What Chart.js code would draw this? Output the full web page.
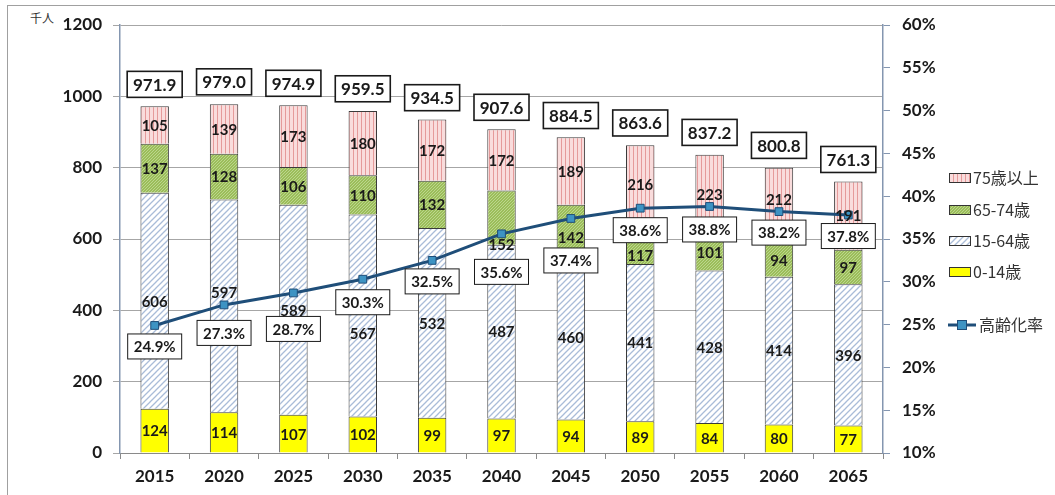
<!DOCTYPE html>
<html>
<head>
<meta charset="utf-8">
<script src="https://cdn.jsdelivr.net/npm/chart.js@4"></script>
<style>
html,body{margin:0;padding:0;background:#fff;overflow:hidden;}
#wrap{position:relative;width:1055px;height:495px;}
#frame{position:absolute;left:7px;top:5px;width:1100px;height:600px;border:1px solid #a0a0a0;box-sizing:border-box;}
#unit{position:absolute;left:30px;top:9px;font:12px "Noto Sans CJK JP";color:#333;}
canvas{position:absolute;left:0;top:0;}
</style>
</head>
<body>
<div id="wrap">
<div id="frame"></div>
<div id="unit">千人</div>
<canvas id="c" width="1055" height="495"></canvas>
</div>
<script>
// ---- data ----
const years = ['2015','2020','2025','2030','2035','2040','2045','2050','2055','2060','2065'];
const age0_14 = [124,114,107,102,99,97,94,89,84,80,77];
const age15_64 = [606,597,589,567,532,487,460,441,428,414,396];
const age65_74 = [137,128,106,110,132,152,142,117,101,94,97];
const age75plus = [105,139,173,180,172,172,189,216,223,212,191];
const totals = [971.9,979.0,974.9,959.5,934.5,907.6,884.5,863.6,837.2,800.8,761.3];
const agingRate = [24.9,27.3,28.7,30.3,32.5,35.6,37.4,38.6,38.8,38.2,37.8];
const seriesNames = ['0-14歳','15-64歳','65-74歳','75歳以上','高齢化率'];

// ---- label placement tweaks (pixels, as hand-placed in the original) ----
const segLabelShift = {
  1:[0,-14,0,18,0,0,0,0,0,0,0],
  2:[0,0,0,0,0,27,7,12,0,0,0],
  3:[0,0,0,0,0,0,0,0,0,-6,0]
};
const rateLabelShift = [21,28,36,23,21,38,42,22,23,21,21];

// ---- patterns ----
function makePattern(w,h,draw){
  const c=document.createElement('canvas');c.width=w;c.height=h;
  const g=c.getContext('2d');draw(g);
  return g.createPattern(c,'repeat');
}
const hatchBlue = makePattern(6,6,g=>{
  g.fillStyle='#ffffff';g.fillRect(0,0,6,6);
  g.strokeStyle='#a9bcd8';g.lineWidth=1.3;
  g.beginPath();g.moveTo(-1,7);g.lineTo(7,-1);g.moveTo(-4,4);g.lineTo(4,-4);g.moveTo(2,10);g.lineTo(10,2);g.stroke();
});
const pinkLines = makePattern(4,4,g=>{
  g.fillStyle='#f9dcdc';g.fillRect(0,0,4,4);
  g.fillStyle='#e59a9a';g.fillRect(1,0,1,4);
});
const greenDots = makePattern(3,3,g=>{
  g.fillStyle='#9bbd5a';g.fillRect(0,0,3,3);
  g.fillStyle='#bcd68c';g.fillRect(0,0,1,1);g.fillRect(2,1,1,1);g.fillRect(1,2,1,1);
});
const yellow='#ffff00';
const fills=[yellow,hatchBlue,greenDots,pinkLines];

const NUM='Lato, "Noto Sans CJK JP", sans-serif';
const JP='"Noto Sans CJK JP", sans-serif';

function box(g,cx,cy,w,h,text,font,lw){
  g.save();
  g.fillStyle='#fff';g.fillRect(cx-w/2,cy-h/2,w,h);
  g.strokeStyle='#1a1a1a';g.lineWidth=lw;g.strokeRect(cx-w/2,cy-h/2,w,h);
  g.fillStyle='#1a1a1a';g.font=font;g.textAlign='center';g.textBaseline='middle';
  g.fillText(text,cx,cy+1);
  g.restore();
}

const labelsPlugin={
  id:'labels',
  afterDatasetsDraw(chart){
    const g=chart.ctx, xs=chart.scales.x, ys=chart.scales.y, y1=chart.scales.y1;
    g.save();
    g.font='bold 15px '+NUM;g.fillStyle='#1a1a1a';g.textAlign='center';g.textBaseline='middle';
    chart.data.datasets.forEach((ds,i)=>{
      if(ds.type!=='bar')return;
      const k=i-1, sh=segLabelShift[k];
      chart.getDatasetMeta(i).data.forEach((bar,j)=>{
        g.fillText(String(ds.data[j]),bar.x,(bar.y+bar.base)/2+1+(sh?sh[j]:0));
      });
    });
    g.restore();
    totals.forEach((t,j)=>{
      const x=xs.getPixelForValue(j), y=ys.getPixelForValue(t)-22;
      box(g,x,y,55,26,t.toFixed(1),'bold 17px '+NUM,1.6);
    });
    agingRate.forEach((r,j)=>{
      const x=xs.getPixelForValue(j), y=y1.getPixelForValue(r)+rateLabelShift[j];
      box(g,x,y,54,25,r.toFixed(1)+'%','bold 15px '+NUM,1);
    });
  },
  afterDraw(chart){
    const g=chart.ctx;
    g.save();
    g.font='16px '+JP;g.fillStyle='#333';g.textBaseline='middle';g.textAlign='left';
    const items=[[3,178],[2,210],[1,241],[0,272]];
    items.forEach(([k,y])=>{
      g.fillStyle=fills[k];g.fillRect(949,y-4,21,9);
      g.strokeStyle='#333';g.lineWidth=1;g.strokeRect(949.5,y-4.5,21,9);
      g.fillStyle='#333';g.fillText(seriesNames[k],973,y);
    });
    const ly=325;
    g.strokeStyle='#1f4e79';g.lineWidth=3;g.beginPath();g.moveTo(948,ly);g.lineTo(976,ly);g.stroke();
    g.fillStyle='#3d93c3';g.fillRect(957,ly-5,10,10);g.strokeStyle='#1f4e79';g.lineWidth=1;g.strokeRect(957.5,ly-4.5,9,9);
    g.fillStyle='#333';g.fillText(seriesNames[4],979,ly);
    g.restore();
  }
};

const tickFont={family:NUM,size:17,weight:'bold'};
new Chart(document.getElementById('c'),{
  data:{
    labels:years,
    datasets:[
      {type:'line',label:seriesNames[4],data:agingRate,yAxisID:'y1',order:0,
       borderColor:'#1f4e79',borderWidth:3,pointStyle:'rect',pointRadius:5.5,
       pointBackgroundColor:'#3d93c3',pointBorderColor:'#1f4e79',pointBorderWidth:1,tension:0},
      {type:'bar',label:seriesNames[0],data:age0_14,backgroundColor:fills[0],borderColor:'#3a3a3a',borderWidth:1,stack:'s',order:1},
      {type:'bar',label:seriesNames[1],data:age15_64,backgroundColor:fills[1],borderColor:'#3a3a3a',borderWidth:1,stack:'s',order:1},
      {type:'bar',label:seriesNames[2],data:age65_74,backgroundColor:fills[2],borderColor:'#3a3a3a',borderWidth:1,stack:'s',order:1},
      {type:'bar',label:seriesNames[3],data:age75plus,backgroundColor:fills[3],borderColor:'#3a3a3a',borderWidth:1,stack:'s',order:1}
    ]
  },
  options:{
    responsive:false,animation:false,
    layout:{padding:{top:25,left:0,right:0,bottom:0}},
    datasets:{bar:{categoryPercentage:1,barPercentage:0.41}},
    plugins:{legend:{display:false},tooltip:{enabled:false}},
    scales:{
      x:{stacked:true,offset:true,
         grid:{offset:true,drawOnChartArea:false,tickLength:6,color:'#8a8a8a'},
         border:{color:'#8a8a8a'},
         ticks:{font:tickFont,color:'#1a1a1a',padding:7,maxRotation:0},
         afterFit(s){s.height=42;}},
      y:{stacked:true,min:0,max:1200,
         ticks:{stepSize:200,font:tickFont,color:'#1a1a1a',padding:11,callback:v=>String(v)},
         grid:{color:'#a6a6a6',tickLength:7,tickColor:'#a6a6a6'},
         border:{color:'#8496b0',width:1.5},
         afterFit(s){s.width=120;}},
      y1:{position:'right',min:10,max:60,
         ticks:{stepSize:5,font:tickFont,color:'#1a1a1a',padding:12,callback:v=>v+'%'},
         grid:{drawOnChartArea:false,tickLength:7,tickColor:'#8496b0'},
         border:{color:'#8496b0',width:1.5},
         afterFit(s){s.width=172;}}
    }
  },
  plugins:[labelsPlugin]
});
</script>
</body>
</html>
